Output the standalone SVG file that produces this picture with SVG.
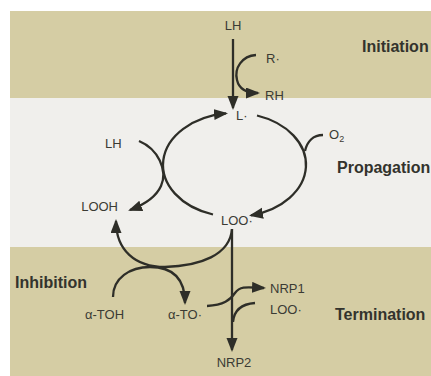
<svg xmlns="http://www.w3.org/2000/svg" width="431" height="376" viewBox="0 0 431 376">
  <style>
    .band { fill: #d5cda4; }
    .mid { fill: #f0efec; }
    .lbl { font-family: "Liberation Sans", Arial, sans-serif; font-size: 13px; fill: #3b3b34; }
    .sub { font-size: 9px; }
    .stage { font-family: "Liberation Sans", Arial, sans-serif; font-size: 16px; font-weight: bold; fill: #33332d; }
    .con { fill: none; stroke: #2e2e28; stroke-width: 2.3; }
    .arr { marker-end: url(#ah); }
  </style>
  <defs>
    <marker id="ah" markerUnits="userSpaceOnUse" markerWidth="15" markerHeight="12" refX="12" refY="5.5" orient="auto">
      <path d="M0,0 L14,5.5 L0,11 z" fill="#2e2e28"/>
    </marker>
  </defs>

  <g id="background">
    <rect x="0" y="0" width="431" height="376" fill="#ffffff"/>
    <rect class="band" x="10" y="11" width="421" height="87"/>
    <rect class="mid" x="10" y="98" width="421" height="149"/>
    <rect class="band" x="10" y="247" width="421" height="129"/>
  </g>

  <g id="connectors">
    <!-- Initiation -->
    <path class="con arr" d="M233 39 L233 108"/>
    <path class="con arr" d="M256 55 C242 56 234 68 237 80 C239 89 246 93 258 93"/>
    <!-- Propagation cycle -->
    <path class="con arr" d="M213 214.5 A72 52 0 0 1 226 113.4"/>
    <path class="con arr" d="M257 115.5 A72 52 0 0 1 251 215.3"/>
    <path class="con" d="M323 135 C313 135 307 142 305 151"/>
    <path class="con arr" d="M139 141 C158 149 168 170 161 186 C156 197 146 204 130 210"/>
    <!-- Inhibition -->
    <path class="con arr" d="M232 229 C230 255 200 266 165 267 C135 267 116 250 116 221"/>
    <path class="con arr" d="M113 297 C113 278 130 267 150 267 C172 267 185 278 185 303"/>
    <!-- Termination -->
    <path class="con arr" d="M232 229 L232 350"/>
    <path class="con arr" d="M207 306 C224 305 230 300 235 293 C240 286 246 287 264 288"/>
    <path class="con" d="M255 303 C242 304 234 310 233 322"/>
  </g>

  <g id="stage-initiation"><text class="stage" x="362" y="52">Initiation</text></g>
  <g id="stage-propagation"><text class="stage" x="337" y="173">Propagation</text></g>
  <g id="stage-inhibition"><text class="stage" x="15" y="288">Inhibition</text></g>
  <g id="stage-termination"><text class="stage" x="335" y="320">Termination</text></g>

  <g id="node-LH-top"><text class="lbl" x="233" y="30" text-anchor="middle">LH</text></g>
  <g id="node-R"><text class="lbl" x="266" y="63">R·</text></g>
  <g id="node-RH"><text class="lbl" x="265" y="100">RH</text></g>
  <g id="node-L"><text class="lbl" x="236" y="120">L·</text></g>
  <g id="node-O2"><text class="lbl" x="329" y="139">O<tspan class="sub" dy="3">2</tspan></text></g>
  <g id="node-LH-left"><text class="lbl" x="105" y="148">LH</text></g>
  <g id="node-LOOH"><text class="lbl" x="118" y="211" text-anchor="end">LOOH</text></g>
  <g id="node-LOO"><text class="lbl" x="221" y="225">LOO·</text></g>
  <g id="node-aTOH"><text class="lbl" x="85" y="319">α-TOH</text></g>
  <g id="node-aTO"><text class="lbl" x="168" y="319">α-TO·</text></g>
  <g id="node-NRP1"><text class="lbl" x="270" y="293">NRP1</text></g>
  <g id="node-LOO-2"><text class="lbl" x="270" y="314">LOO·</text></g>
  <g id="node-NRP2"><text class="lbl" x="234" y="367" text-anchor="middle">NRP2</text></g>
</svg>
